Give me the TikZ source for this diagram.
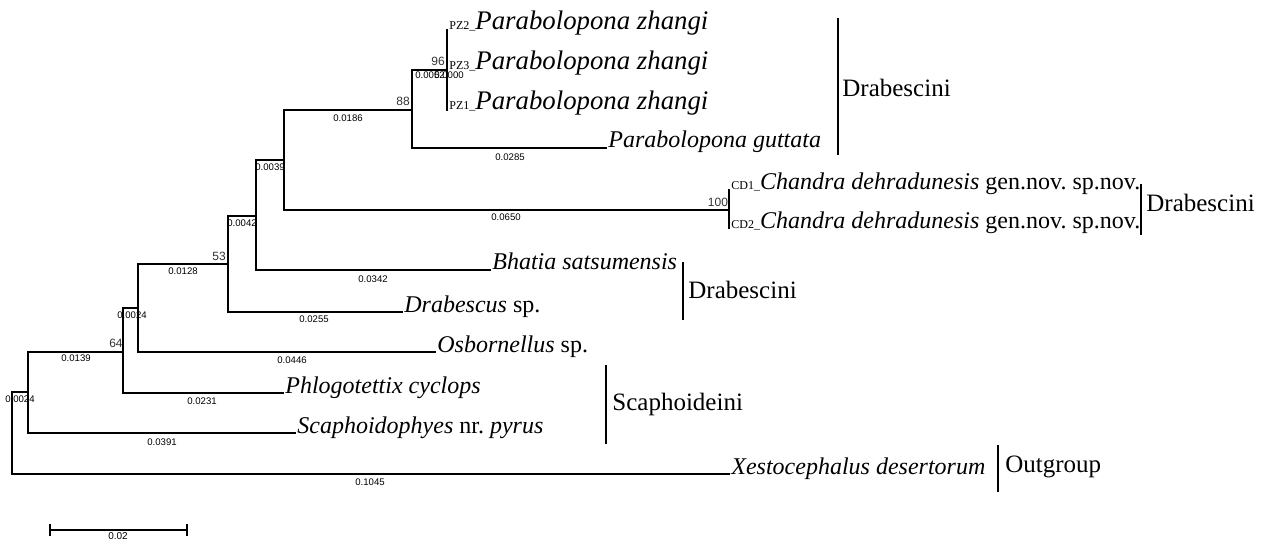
\documentclass[tikz,border=0pt]{standalone}
\usepackage{fontspec}
\setmainfont{Liberation Serif}
\newfontfamily\lblfont{Liberation Sans}
\usetikzlibrary{positioning}
\frenchspacing

\begin{document}
\begin{tikzpicture}[x=0.5pt, y=-0.5pt,
  treeline/.style={line width=1.4pt, black, line cap=rect},
  leaf/.style={anchor=base west, inner sep=0pt, xshift=1pt, font=\fontsize{12}{14}\selectfont},
  bigleaf/.style={leaf, font=\fontsize{13.4}{15}\selectfont},
  blen/.style={inner sep=0pt, font=\lblfont\fontsize{4.8}{5}\selectfont},
  boot/.style={inner sep=0pt, font=\lblfont\fontsize{6}{6}\selectfont, black!80},
  cladebar/.style={line width=1.3pt},
  cladename/.style={anchor=west, inner sep=0pt, font=\fontsize{12.5}{15}\selectfont},
]
\newcommand{\tagtxt}[1]{{\fontsize{6}{6}\selectfont #1}}
\useasboundingbox (0,0) rectangle (1265,540);
% Internal nodes
\coordinate (root) at (12,433);
\coordinate (nA) at (28,392);
\coordinate (nB) at (123,352);
\coordinate (nC) at (138,308);
\coordinate (nD) at (228,264);
\coordinate (nE) at (256,216);
\coordinate (nF) at (284,160);
\coordinate (nG) at (412,110);
\coordinate (nH) at (447,70);
\coordinate (nCD) at (729,210);
% Leaf tips
\coordinate (pz2) at (447,30);
\coordinate (pz3) at (447,70);
\coordinate (pz1) at (447,110);
\coordinate (gut) at (606,148);
\coordinate (cd1) at (729,190);
\coordinate (cd2) at (729,228);
\coordinate (bha) at (490,270);
\coordinate (drab) at (402,312);
\coordinate (osb) at (435,352);
\coordinate (phl) at (283,393);
\coordinate (sca) at (295,433);
\coordinate (xes) at (729,474);
% Branches
\draw[treeline] (root) |- (nA); \draw[treeline] (root) |- (xes);
\draw[treeline] (nA) |- (nB); \draw[treeline] (nA) |- (sca);
\draw[treeline] (nB) |- (nC); \draw[treeline] (nB) |- (phl);
\draw[treeline] (nC) |- (nD); \draw[treeline] (nC) |- (osb);
\draw[treeline] (nD) |- (nE); \draw[treeline] (nD) |- (drab);
\draw[treeline] (nE) |- (nF); \draw[treeline] (nE) |- (bha);
\draw[treeline] (nF) |- (nG); \draw[treeline] (nF) |- (nCD);
\draw[treeline] (nG) |- (nH); \draw[treeline] (nG) |- (gut);
\draw[treeline, line width=0.8pt] (nH) -- (pz2); \draw[treeline, line width=0.8pt] (nH) -- (pz1);
\draw[treeline, line width=0.8pt] (nCD) -- (cd1); \draw[treeline, line width=0.8pt] (nCD) -- (cd2);
% Leaf labels
\node[bigleaf] (tpz2) at (pz2) {\tagtxt{PZ2\_}\textit{Parabolopona zhangi}};
\node[bigleaf] (tpz3) at (pz3) {\tagtxt{PZ3\_}\textit{Parabolopona zhangi}};
\node[bigleaf] (tpz1) at (pz1) {\tagtxt{PZ1\_}\textit{Parabolopona zhangi}};
\node[leaf] (tgut) at (gut) {\textit{Parabolopona guttata}};
\node[leaf] (tcd1) at (cd1) {\tagtxt{CD1\_}\textit{Chandra dehradunesis} gen.nov. sp.nov.};
\node[leaf] (tcd2) at (cd2) {\tagtxt{CD2\_}\textit{Chandra dehradunesis} gen.nov. sp.nov.};
\node[leaf] (tbha) at (bha) {\textit{Bhatia satsumensis}};
\node[leaf] (tdrab) at (drab) {\textit{Drabescus} sp.};
\node[leaf] (tosb) at (osb) {\textit{Osbornellus} sp.};
\node[leaf] (tphl) at (phl) {\textit{Phlogotettix cyclops}};
\node[leaf] (tsca) at (sca) {\textit{Scaphoidophyes} nr. \textit{pyrus}};
\node[leaf] (txes) at (xes) {\textit{Xestocephalus desertorum}};
% Branch lengths
\node[blen] (l1) at (430,75) {0.0052};
\node[blen] (l2) at (449,75) {0.0000};
\node[blen] (l3) at (348,118) {0.0186};
\node[blen] (l4) at (510,157) {0.0285};
\node[blen] (l5) at (270,167) {0.0039};
\node[blen] (l6) at (506,217) {0.0650};
\node[blen] (l7) at (242,223) {0.0042};
\node[blen] (l8) at (183,271) {0.0128};
\node[blen] (l9) at (373,279) {0.0342};
\node[blen] (l10) at (314,319) {0.0255};
\node[blen] (l11) at (132,315) {0.0024};
\node[blen] (l12) at (76,358) {0.0139};
\node[blen] (l13) at (292,360) {0.0446};
\node[blen] (l14) at (202,401) {0.0231};
\node[blen] (l15) at (162,442) {0.0391};
\node[blen] (l16) at (20,399) {0.0024};
\node[blen] (l17) at (370,482) {0.1045};
% Bootstrap values
\node[boot] (b88) at (403,101) {88};
\node[boot] (b96) at (438,61) {96};
\node[boot] (b100) at (718,202) {100};
\node[boot] (b53) at (219,256) {53};
\node[boot] (b64) at (116,343) {64};
% Clade bars
\coordinate (k1t) at (838,18); \coordinate (k1b) at (838,155);
\coordinate (k2t) at (1141,184); \coordinate (k2b) at (1141,235);
\coordinate (k3t) at (683,262); \coordinate (k3b) at (683,320);
\coordinate (k4t) at (606,365); \coordinate (k4b) at (606,444);
\coordinate (k5t) at (998,445); \coordinate (k5b) at (998,492);
\draw[cladebar] (k1t) -- (k1b); \draw[cladebar] (k2t) -- (k2b);
\draw[cladebar] (k3t) -- (k3b); \draw[cladebar] (k4t) -- (k4b);
\draw[cladebar] (k5t) -- (k5b);
\node[cladename] (c1) at (842,88) {Drabescini};
\node[cladename] (c2) at (1146,203) {Drabescini};
\node[cladename] (c3) at (688,290) {Drabescini};
\node[cladename] (c4) at (612,404) {Scaphoideini};
\node[cladename] (c5) at (1005,467) {Outgroup};
% Scale bar
\coordinate (s0) at (50,530); \coordinate (s1) at (187,530);
\draw[line width=0.8pt] (s0) -- (s1);
\draw[line width=0.8pt] (s0) ++(0,-6) -- ++(0,12);
\draw[line width=0.8pt] (s1) ++(0,-6) -- ++(0,12);
\node[blen, anchor=north, font=\lblfont\fontsize{5}{5}\selectfont] (slbl) at (118,532) {0.02};
\end{tikzpicture}
\end{document}
